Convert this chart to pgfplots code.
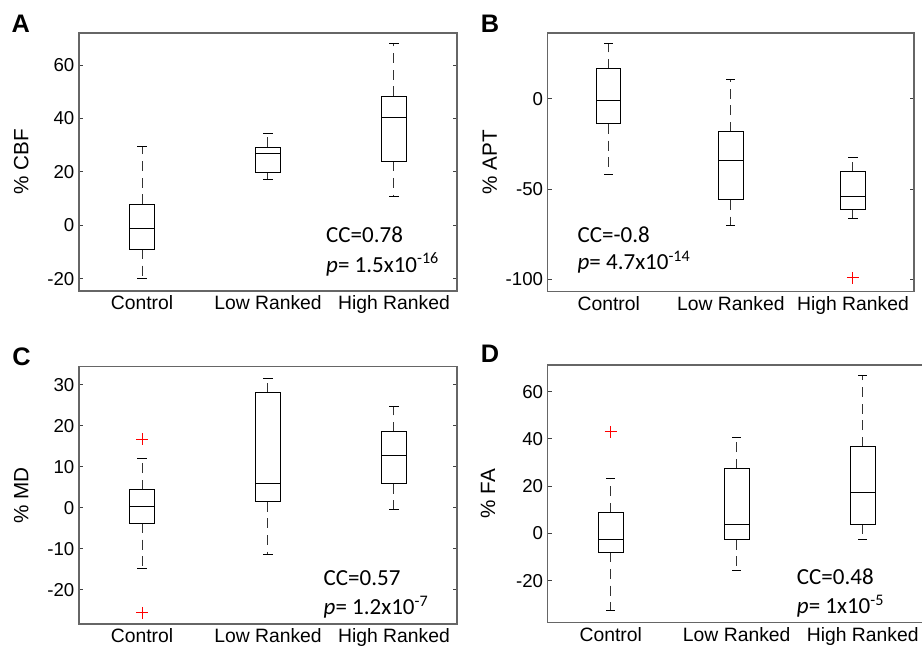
\documentclass[border=0pt]{standalone}
\usepackage{fontspec}
\setmainfont{Liberation Sans}
\newfontfamily\calibri{Carlito}
\usepackage{pgfplots}
\pgfplotsset{compat=1.18}
\usepgfplotslibrary{statistics}

% one pixel of the reference = 0.75pt
\pgfplotsset{
  panel/.style={
    scale only axis,
    xmin=0.5, xmax=3.5,
    xtick={1,2,3},
    xticklabels={Control, Low Ranked, High Ranked},
    x tick style={draw=none},
    ytick pos=both,
    tick align=inside,
    major tick length=3pt,
    y tick style={black!75, line width=0.7pt},
    axis line style={black!60, line width=0.9pt},
    /pgf/number format/assume math mode=true,
    yticklabel style={font=\fontsize{14}{16}\selectfont},
    xticklabel style={font=\fontsize{14.5}{16}\selectfont},
    ylabel style={font=\fontsize{15.5}{18}\selectfont},
    boxplot/draw direction=y,
    boxplot/box extend=0.2,
    boxplot/whisker extend=0.075,
    boxplot/draw/lower whisker/.code={%
      \draw[dash pattern=on 7.5pt off 5pt, black!80]
        (boxplot cs:\pgfplotsboxplotvalue{lower quartile})
        -- (boxplot cs:\pgfplotsboxplotvalue{lower whisker});
      \draw[solid]
        (boxplot whisker cs:\pgfplotsboxplotvalue{lower whisker},0)
        -- (boxplot whisker cs:\pgfplotsboxplotvalue{lower whisker},1);
    },
    boxplot/draw/upper whisker/.code={%
      \draw[dash pattern=on 7.5pt off 5pt, black!80]
        (boxplot cs:\pgfplotsboxplotvalue{upper quartile})
        -- (boxplot cs:\pgfplotsboxplotvalue{upper whisker});
      \draw[solid]
        (boxplot whisker cs:\pgfplotsboxplotvalue{upper whisker},0)
        -- (boxplot whisker cs:\pgfplotsboxplotvalue{upper whisker},1);
    },
  },
  bp/.style={black, line width=0.75pt, solid, mark=none},
  outl/.style={only marks, mark=+, mark size=4.5pt, red, line width=0.75pt},
}
\tikzset{
  cc/.style={anchor=base west, inner sep=0pt, font=\calibri\fontsize{17.25}{20}\selectfont},
  letter/.style={anchor=north west, inner sep=0pt, font=\fontsize{19}{22}\selectfont\bfseries},
}

\begin{document}
\begin{tikzpicture}
\useasboundingbox (0,0) rectangle (691.5pt,490.5pt);
\clip (0,0) rectangle (691.5pt,490.5pt);

\node[letter] at (8.5pt,479.25pt) {A};
\node[letter] at (360.5pt,479.25pt) {B};
\node[letter] at (9pt,229.5pt) {C};
\node[letter] at (360.5pt,231.75pt) {D};

% A: CBF
\begin{axis}[panel,
    at={(59.25pt,272.25pt)}, anchor=south west,
    width=283.5pt, height=193.5pt,
    ymin=-24.6, ymax=72,
    ytick={-20,0,20,40,60},
    ylabel={\% CBF},
    ylabel style={at={(axis description cs:-0.153,0.5)}, anchor=center},
  ]
  \addplot[bp, boxplot prepared={draw position=1,
      lower whisker=-19.9, lower quartile=-8.9, median=-1.1,
      upper quartile=7.9, upper whisker=29.4}] coordinates {};
  \addplot[bp, boxplot prepared={draw position=2,
      lower whisker=17.2, lower quartile=19.8, median=26.7,
      upper quartile=29.3, upper whisker=34.5}] coordinates {};
  \addplot[bp, boxplot prepared={draw position=3,
      lower whisker=10.7, lower quartile=24.0, median=40.2,
      upper quartile=48.3, upper whisker=68.0}] coordinates {};
  \node[cc] at (axis cs:2.46,-6.6) {CC=0.78};
  \node[cc] at (axis cs:2.46,-17.5) {\textit{p}= 1.5x10\textsuperscript{-16}};
\end{axis}

% B: APT
\begin{axis}[panel,
    at={(410.8pt,272.0pt)}, anchor=south west,
    width=274.7pt, height=193.8pt,
    ymin=-106.5, ymax=36.3,
    ytick={-100,-50,0},
    ylabel={\% APT},
    ylabel style={at={(axis description cs:-0.158,0.5)}, anchor=center},
  ]
  \addplot[bp, boxplot prepared={draw position=1,
      lower whisker=-42.0, lower quartile=-14.0, median=-0.9,
      upper quartile=16.4, upper whisker=30.5}] coordinates {};
  \addplot[bp, boxplot prepared={draw position=2,
      lower whisker=-70.0, lower quartile=-56.0, median=-34.3,
      upper quartile=-18.4, upper whisker=10.5}] coordinates {};
  \addplot[bp, boxplot prepared={draw position=3,
      lower whisker=-66.5, lower quartile=-61.5, median=-54.1,
      upper quartile=-40.5, upper whisker=-32.8}] coordinates {};
  \addplot[outl] coordinates {(3,-99)};
  \node[cc] at (axis cs:0.743,-79.6) {CC=-0.8};
  \node[cc] at (axis cs:0.743,-94.5) {\textit{p}= 4.7x10\textsuperscript{-14}};
\end{axis}

% C: MD
\begin{axis}[panel,
    at={(59.25pt,22.5pt)}, anchor=south west,
    width=283.5pt, height=193pt,
    ymin=-28.3, ymax=34.4,
    ytick={-20,-10,0,10,20,30},
    ylabel={\% MD},
    ylabel style={at={(axis description cs:-0.153,0.5)}, anchor=center},
  ]
  \addplot[bp, boxplot prepared={draw position=1,
      lower whisker=-14.8, lower quartile=-3.7, median=0.3,
      upper quartile=4.4, upper whisker=12.1}] coordinates {};
  \addplot[bp, boxplot prepared={draw position=2,
      lower whisker=-11.4, lower quartile=1.5, median=5.9,
      upper quartile=28.1, upper whisker=31.5}] coordinates {};
  \addplot[bp, boxplot prepared={draw position=3,
      lower whisker=-0.5, lower quartile=5.9, median=12.7,
      upper quartile=18.5, upper whisker=24.7}] coordinates {};
  \addplot[outl] coordinates {(1,16.7) (1,-25.6)};
  \node[cc] at (axis cs:2.44,-19.0) {CC=0.57};
  \node[cc] at (axis cs:2.44,-26.1) {\textit{p}= 1.2x10\textsuperscript{-7}};
\end{axis}

% D: FA
\begin{axis}[panel,
    at={(410.8pt,23.5pt)}, anchor=south west,
    width=283.5pt, height=193.3pt,
    ymin=-37.8, ymax=71.3,
    ytick={-20,0,20,40,60},
    ylabel={\% FA},
    ylabel style={at={(axis description cs:-0.158,0.5)}, anchor=center},
  ]
  \addplot[bp, boxplot prepared={draw position=1,
      lower whisker=-32.5, lower quartile=-8.0, median=-2.6,
      upper quartile=8.7, upper whisker=23.4}] coordinates {};
  \addplot[bp, boxplot prepared={draw position=2,
      lower whisker=-15.8, lower quartile=-2.6, median=3.9,
      upper quartile=27.3, upper whisker=40.4}] coordinates {};
  \addplot[bp, boxplot prepared={draw position=3,
      lower whisker=-2.6, lower quartile=3.9, median=17.5,
      upper quartile=36.6, upper whisker=67.0}] coordinates {};
  \addplot[outl] coordinates {(1,43.0)};
  \node[cc] at (axis cs:2.476,-21.6) {CC=0.48};
  \node[cc] at (axis cs:2.476,-33.9) {\textit{p}= 1x10\textsuperscript{-5}};
\end{axis}
\end{tikzpicture}
\end{document}
